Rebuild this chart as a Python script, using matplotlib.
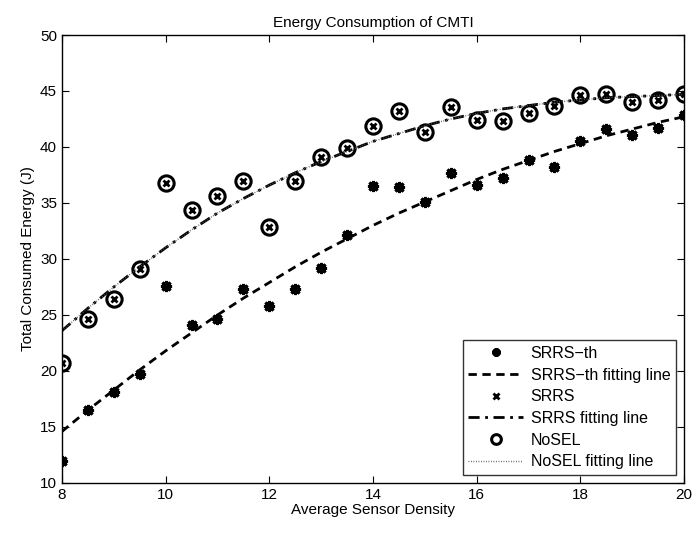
import matplotlib
matplotlib.use('Agg')
import matplotlib.pyplot as plt

plt.rcParams['font.family'] = ['Liberation Sans', 'DejaVu Sans']

# ── Data ───────────────────────────────────────────────────────────
density = [8, 8.5, 9, 9.5, 10, 10.5, 11, 11.5, 12, 12.5, 13, 13.5, 14,
           14.5, 15, 15.5, 16, 16.5, 17, 17.5, 18, 18.5, 19, 19.5, 20]

srrs_th = [12.0, 16.5, 18.1, 19.7, 27.6, 24.1, 24.6, 27.3, 25.8, 27.3, 29.2,
           32.1, 36.5, 36.4, 35.1, 37.7, 36.6, 37.2, 38.8, 38.2, 40.5, 41.6,
           41.1, 41.7, 42.9]
srrs_th_fit = [14.6, 16.5, 18.3, 20.1, 21.8, 23.4, 25.0, 26.5, 27.9, 29.3,
               30.6, 31.8, 33.0, 34.1, 35.1, 36.1, 37.1, 38.0, 38.8, 39.6,
               40.3, 41.0, 41.6, 42.2, 42.7]

srrs = [20.7, 24.6, 26.4, 29.1, 36.8, 34.4, 35.6, 37.0, 32.9, 37.0, 39.1,
        39.9, 41.9, 43.2, 41.3, 43.6, 42.4, 42.3, 43.0, 43.7, 44.6, 44.7,
        44.0, 44.2, 44.7]
srrs_fit = [23.6, 25.6, 27.5, 29.3, 31.0, 32.6, 34.1, 35.4, 36.6, 37.7, 38.7,
            39.6, 40.5, 41.2, 41.9, 42.5, 43.0, 43.4, 43.7, 44.0, 44.2, 44.4,
            44.5, 44.6, 44.7]

nosel = list(srrs)
nosel_fit = list(srrs_fit)

# ── Plot ───────────────────────────────────────────────────────────
fig = plt.figure(figsize=(6.98, 5.36), dpi=100)
ax = fig.add_axes([0.0888, 0.0989, 0.8912, 0.8358])

ast = (8, 2, 0)
ax.plot(density, srrs_th, linestyle='none', marker=ast, ms=8, mew=2.2,
        color='black', label='SRRS\u2212th')
ax.plot(density, srrs_th_fit, linestyle=(0, (3, 2)), lw=2, color='black',
        label='SRRS\u2212th fitting line')
ax.plot(density, srrs, linestyle='none', marker='x', ms=5, mew=2,
        color='black', label='SRRS')
ax.plot(density, srrs_fit, linestyle=(0, (4, 2, 1, 2)), lw=2, color='black',
        label='SRRS fitting line')
ax.plot(density, nosel, linestyle='none', marker='o', ms=11, mew=2.2,
        mfc='none', color='black', label='NoSEL')
ax.plot(density, nosel_fit, linestyle=(0, (0.6, 1.2)), lw=1, color='#555555',
        label='NoSEL fitting line')

ax.set_xlim(8, 20)
ax.set_ylim(10, 50)
ax.set_xticks(range(8, 21, 2))
ax.set_yticks(range(10, 51, 5))
ax.tick_params(direction='in', top=True, right=True, labelsize=11, length=5,
               width=0.8)
for s in ax.spines.values():
    s.set_linewidth(1.0)

ax.set_title('Energy Consumption of CMTI', fontsize=11, pad=6)
ax.set_xlabel('Average Sensor Density', fontsize=11, labelpad=1)
ax.set_ylabel('Total Consumed Energy (J)', fontsize=11, labelpad=4)

leg = ax.legend(loc='lower right', fontsize=11.5, frameon=True, fancybox=False,
                edgecolor='black', handlelength=3.4, handletextpad=0.5,
                labelspacing=0.42, borderpad=0.35, borderaxespad=0.5)
leg.get_frame().set_linewidth(1.0)
# smaller markers in the legend, like the original
for h, ms in zip(leg.legend_handles, [6, None, 5, None, 7, None]):
    if ms:
        h.set_markersize(ms)

plt.savefig('out.png', dpi=100)
